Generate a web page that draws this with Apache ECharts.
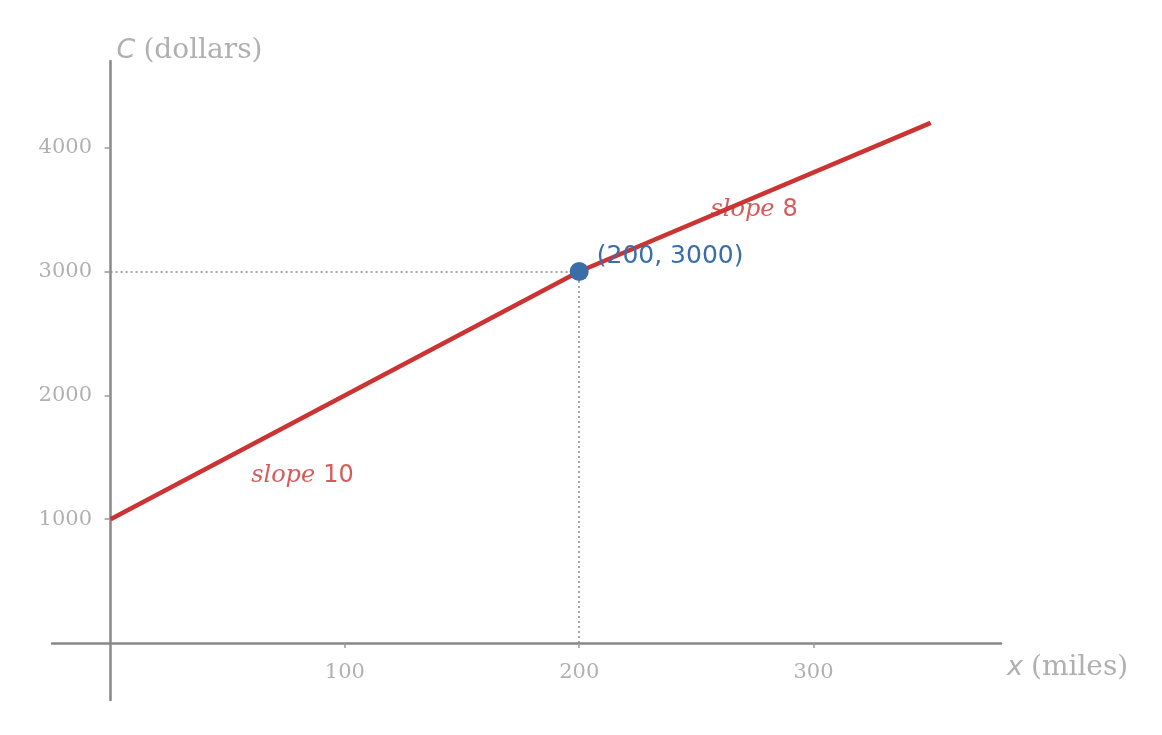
<!DOCTYPE html>
<html>
<head>
<meta charset="utf-8">
<script src="https://cdn.jsdelivr.net/npm/echarts@6/dist/echarts.min.js"></script>
<style>html,body{margin:0;padding:0;background:#fff}#c{width:1162px;height:735px}</style>
</head>
<body>
<div id="c"></div>
<script>
// Data
const costLine = [[0, 1000], [200, 3000], [350, 4200]];
const breakPoint = [[200, 3000]];
const breakLabel = '(200, 3000)';
const slopeLabels = [
  { pos: [60, 1350], word: 'slope', num: '10' },
  { pos: [256, 3500], word: 'slope', num: '8' }
];
const xTicks = [100, 200, 300];
const yTicks = [1000, 2000, 3000, 4000];
const xRange = [-25, 380];
const yRange = [-460, 4700];

const RED = '#cc3333', BLUE = '#3a6ea8', GREY = '#888888', LABEL = '#b0b0b0';
const SERIF = 'DejaVu Serif', SANS = 'DejaVu Sans';

const chart = echarts.init(document.getElementById('c'), null, { renderer: 'canvas' });
chart.setOption({
  backgroundColor: '#fff',
  animation: false,
  grid: { left: 52, right: 161, top: 61, bottom: 35, containLabel: false, outerBoundsMode: 'none' },
  xAxis: {
    type: 'value', min: xRange[0], max: xRange[1],
    name: '{i|x}{t|(miles)}', nameLocation: 'end', nameGap: 6,
    nameTextStyle: {
      verticalAlign: 'top', align: 'left', padding: [11, 0, 0, 0],
      rich: {
        i: { fontFamily: SANS, fontStyle: 'italic', fontSize: 27, color: LABEL },
        t: { fontFamily: SERIF, fontSize: 28, color: LABEL, padding: [0, 0, 0, 8] }
      }
    },
    axisLine: { onZero: true, lineStyle: { color: GREY, width: 2.5 } },
    axisTick: { show: true, inside: false, length: 5, customValues: xTicks, lineStyle: { color: '#999', width: 1.5 } },
    axisLabel: { customValues: xTicks, margin: -38, fontFamily: SERIF, fontSize: 21, color: LABEL, formatter: v => String(v) },
    splitLine: { show: false }
  },
  yAxis: {
    type: 'value', min: yRange[0], max: yRange[1],
    name: '{i|C}{t|(dollars)}', nameLocation: 'end', nameGap: 10,
    nameTextStyle: {
      align: 'left', verticalAlign: 'middle', padding: [0, 0, 0, 6],
      rich: {
        i: { fontFamily: SANS, fontStyle: 'italic', fontSize: 27, color: LABEL },
        t: { fontFamily: SERIF, fontSize: 28, color: LABEL, padding: [0, 0, 0, 8] }
      }
    },
    axisLine: { onZero: true, lineStyle: { color: GREY, width: 2.5 } },
    axisTick: { show: true, inside: false, length: 6, customValues: yTicks, lineStyle: { color: '#999', width: 1.5 } },
    axisLabel: { customValues: yTicks, margin: -40, fontFamily: SERIF, fontSize: 21, color: LABEL, padding: [4, 0, 0, 0], formatter: v => String(v) },
    splitLine: { show: false }
  },
  series: [
    {
      type: 'line', data: costLine, symbol: 'none', z: 3,
      lineStyle: { color: RED, width: 4.5 },
      markLine: {
        silent: true, symbol: 'none', z: 1,
        label: { show: false },
        lineStyle: { color: GREY, type: [2, 3], width: 1.5 },
        data: [
          [{ coord: [0, breakPoint[0][1]] }, { coord: breakPoint[0] }],
          [{ coord: [breakPoint[0][0], 0] }, { coord: breakPoint[0] }]
        ]
      }
    },
    {
      type: 'scatter', data: breakPoint, symbolSize: 19, z: 5,
      itemStyle: { color: BLUE, opacity: 1 },
      label: {
        show: true, position: 'right', distance: 8, offset: [0, -15],
        formatter: breakLabel, fontFamily: SANS, fontSize: 25, color: BLUE
      }
    },
    {
      type: 'scatter', symbolSize: 0, z: 4, silent: true,
      data: slopeLabels.map(s => ({ value: s.pos, w: s.word, n: s.num })),
      label: {
        show: true, position: 'right', distance: 0,
        formatter: p => '{w|' + p.data.w + '}{n|' + p.data.n + '}',
        rich: {
          w: { fontFamily: SERIF, fontStyle: 'italic', fontSize: 24, color: RED },
          n: { fontFamily: SANS, fontSize: 24, color: RED, padding: [0, 0, 0, 8] }
        }
      }
    }
  ]
});
</script>
</body>
</html>
